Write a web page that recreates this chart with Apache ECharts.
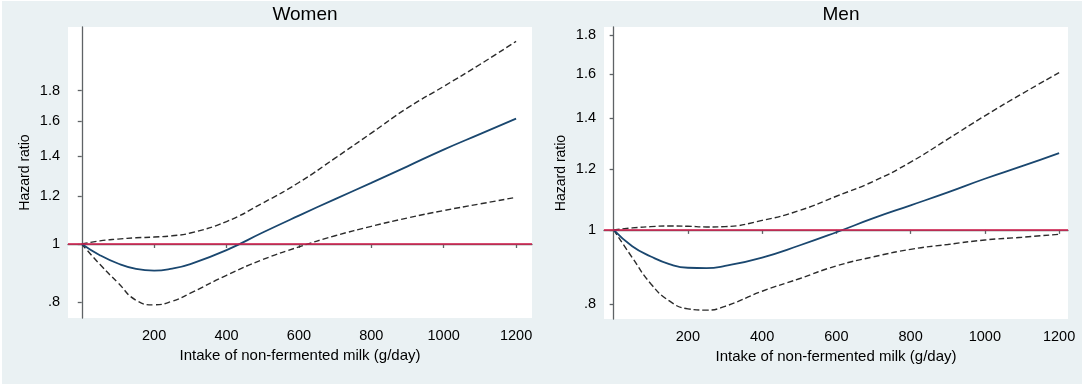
<!DOCTYPE html>
<html>
<head>
<meta charset="utf-8">
<script src="https://cdn.jsdelivr.net/npm/echarts@6/dist/echarts.min.js"></script>
<style>
  html, body { margin: 0; padding: 0; background: #ffffff; }
  #bg { position: absolute; left: 2px; top: 1px; width: 1080px; height: 383px; background: #eaf1f3; }
  #chart { position: absolute; left: 0; top: 0; width: 1084px; height: 387px; }
</style>
</head>
<body>
<div id="bg"></div>
<div id="chart"></div>
<script>
// Intake of non-fermented milk (g/day)
const intake = [0, 50, 100, 150, 200, 250, 300, 400, 500, 600, 700, 800, 900, 1000, 1100, 1200];

// Women: hazard ratio with 95% CI
const womenHR    = [1, 0.958, 0.928, 0.909, 0.903, 0.910, 0.926, 0.977, 1.045, 1.115, 1.188, 1.264, 1.347, 1.436, 1.524, 1.617];
const womenUpper = [1, 1.012, 1.019, 1.024, 1.027, 1.032, 1.043, 1.090, 1.170, 1.266, 1.390, 1.530, 1.685, 1.830, 1.990, 2.175];
const womenLower = [1, 0.925, 0.862, 0.806, 0.792, 0.803, 0.828, 0.887, 0.942, 0.989, 1.032, 1.070, 1.105, 1.137, 1.166, 1.196];

// Men: hazard ratio with 95% CI
const menHR    = [1, 0.952, 0.923, 0.902, 0.892, 0.891, 0.897, 0.920, 0.954, 0.993, 1.036, 1.077, 1.120, 1.167, 1.212, 1.261];
const menUpper = [1, 1.006, 1.010, 1.012, 1.011, 1.009, 1.010, 1.029, 1.060, 1.107, 1.158, 1.227, 1.315, 1.411, 1.508, 1.607];
const menLower = [1, 0.920, 0.850, 0.807, 0.788, 0.785, 0.794, 0.831, 0.863, 0.897, 0.922, 0.943, 0.957, 0.970, 0.978, 0.987];

// Axis ticks
const xTicks = [200, 400, 600, 800, 1000, 1200];
const yTicks = [0.8, 1, 1.2, 1.4, 1.6, 1.8];

const font = 'Liberation Sans, Arial, sans-serif';
const axisColor = '#5f6366';
const navy = '#1a476f';
const refRed = '#d61c4e';
const dashColor = '#2b2b2b';

// log scale for hazard ratio, ticks labelled back in HR units
const toLog = arr => arr.map((v, i) => [intake[i], Math.log(v)]);
const yLabel = v => {
  const h = Math.round(Math.exp(v) * 10) / 10;
  return h < 1 ? String(h).replace(/^0/, '') : String(h);
};

const panels = [
  {title: 'Women', left: 68, width: 464, height: 291, xMin: -38, xMax: 1244, yMin: -0.2837, yMax: 0.832,
    hr: womenHR, upper: womenUpper, lower: womenLower},
  {title: 'Men', left: 604, width: 464, height: 292, xMin: -26, xMax: 1224, yMin: -0.2689, yMax: 0.6124,
    hr: menHR, upper: menUpper, lower: menLower},
];

const makeXAxis = (p, i) => ({
  type: 'value', gridIndex: i, min: p.xMin, max: p.xMax,
  name: 'Intake of non-fermented milk (g/day)',
  nameLocation: 'middle', nameGap: 30,
  nameTextStyle: {color: '#000', fontSize: 15, fontFamily: font},
  axisLine: {show: true, lineStyle: {color: axisColor, width: 1.3}},
  axisTick: {show: true, length: 4, customValues: xTicks, lineStyle: {color: axisColor, width: 1.3}},
  axisLabel: {customValues: xTicks, formatter: v => String(v), color: '#000', fontSize: 14.5, fontFamily: font, margin: 10},
  splitLine: {show: false},
});

const makeYAxis = (p, i) => ({
  type: 'value', gridIndex: i, min: p.yMin, max: p.yMax,
  name: 'Hazard ratio', nameLocation: 'middle', nameGap: 36, nameRotate: 90,
  nameTextStyle: {color: '#000', fontSize: 14, fontFamily: font},
  axisLine: {show: true, lineStyle: {color: axisColor, width: 1.3}},
  axisTick: {show: true, length: 4, customValues: yTicks.map(Math.log), lineStyle: {color: axisColor, width: 1.3}},
  axisLabel: {customValues: yTicks.map(Math.log), formatter: yLabel, color: '#000', fontSize: 14.5, fontFamily: font, margin: 8},
  splitLine: {show: false},
});

const series = [];
panels.forEach((p, i) => {
  const dashed = {type: [6, 3], color: dashColor, width: 1.4};
  series.push({
    type: 'line', xAxisIndex: i, yAxisIndex: i, data: toLog(p.upper),
    smooth: 0.5, showSymbol: false, symbol: 'none', lineStyle: dashed,
    markLine: {
      silent: true, symbol: 'none', label: {show: false},
      lineStyle: {color: refRed, type: 'solid', width: 1.5},
      data: [{yAxis: 0}]
    },
    z: 2
  });
  series.push({
    type: 'line', xAxisIndex: i, yAxisIndex: i, data: toLog(p.lower),
    smooth: 0.5, showSymbol: false, symbol: 'none', lineStyle: dashed, z: 3
  });
  series.push({
    type: 'line', xAxisIndex: i, yAxisIndex: i, data: toLog(p.hr),
    smooth: 0.5, showSymbol: false, symbol: 'none',
    lineStyle: {color: navy, width: 1.8, type: 'solid'}, z: 4
  });
});

const chart = echarts.init(document.getElementById('chart'), null, {renderer: 'canvas'});
chart.setOption({
  animation: false,
  backgroundColor: 'transparent',
  title: panels.map(p => ({
    text: p.title, left: p.left + p.width / 2, top: 0, textAlign: 'center',
    textStyle: {color: '#000', fontSize: 19, fontWeight: 'normal', fontFamily: font}
  })),
  grid: panels.map(p => ({
    left: p.left, top: 27, width: p.width, height: p.height,
    show: true, backgroundColor: '#ffffff', borderWidth: 0
  })),
  xAxis: panels.map(makeXAxis),
  yAxis: panels.map(makeYAxis),
  series: series
});
</script>
</body>
</html>
